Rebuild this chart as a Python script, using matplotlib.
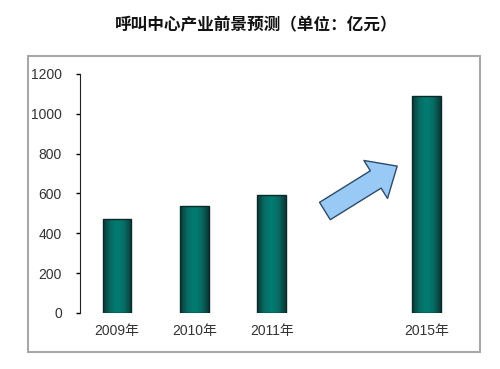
import numpy as np
import matplotlib
matplotlib.use('Agg')
import matplotlib.pyplot as plt
from matplotlib.patches import Rectangle, FancyArrowPatch
from matplotlib.colors import LinearSegmentedColormap

plt.rcParams['font.family'] = ['Liberation Sans', 'Noto Sans CJK SC']

years = ['2009年', '2010年', '2011年', '2015年']
positions = [0, 1, 2, 4]
values = [472, 537, 592, 1090]
yticks = [0, 200, 400, 600, 800, 1000, 1200]

fig = plt.figure(figsize=(5, 3.69), dpi=100)
fig.text(0.512, 0.932, '呼叫中心产业前景预测（单位：亿元）', ha='center', va='center',
         fontsize=12, fontweight='bold', family=['Noto Sans CJK SC'], color='#111111')

# outer frame
fig.patches.append(Rectangle((28 / 500, 1 - 352 / 369), 452 / 500, 296 / 369,
                             transform=fig.transFigure, fill=False,
                             edgecolor='#a8a8a8', linewidth=1.5))

ax = fig.add_axes([0.16, 0.152, 0.77, 0.648])
bars = ax.bar(positions, values, width=0.37, color='none', edgecolor='#0a2a28', linewidth=1, zorder=3)

# teal gradient, dark at the edges
cmap = LinearSegmentedColormap.from_list('teal', ['#0a3834', '#086c64', '#007d73', '#086c64', '#0a3834'])
grad = np.linspace(0, 1, 64).reshape(1, -1)
for b in bars:
    im = ax.imshow(grad, cmap=cmap, aspect='auto', zorder=2,
                   extent=[b.get_x(), b.get_x() + b.get_width(), 0, b.get_height()])
    im.set_clip_path(b)

ax.set_xlim(-0.48, 4.5)
ax.set_ylim(0, 1200)
ax.set_yticks(yticks)
ax.set_xticks(positions)
ax.set_xticklabels(years)
ax.tick_params(axis='x', length=0, pad=8, labelsize=10, labelcolor='#333333')
ax.tick_params(axis='y', direction='out', length=3, width=1, pad=10, labelsize=10, labelcolor='#333333')
for s in ['top', 'right', 'bottom']:
    ax.spines[s].set_visible(False)
ax.spines['left'].set_color('#222222')

arrow = FancyArrowPatch((0.63, 0.42), (0.83, 0.62), transform=ax.transAxes,
                        arrowstyle='simple,head_width=2.3,head_length=1.3,tail_width=1.05',
                        mutation_scale=14, facecolor='#99c9f5', edgecolor='#2e4a66', linewidth=1, zorder=4)
ax.add_patch(arrow)

fig.savefig('out.png', dpi=100)
